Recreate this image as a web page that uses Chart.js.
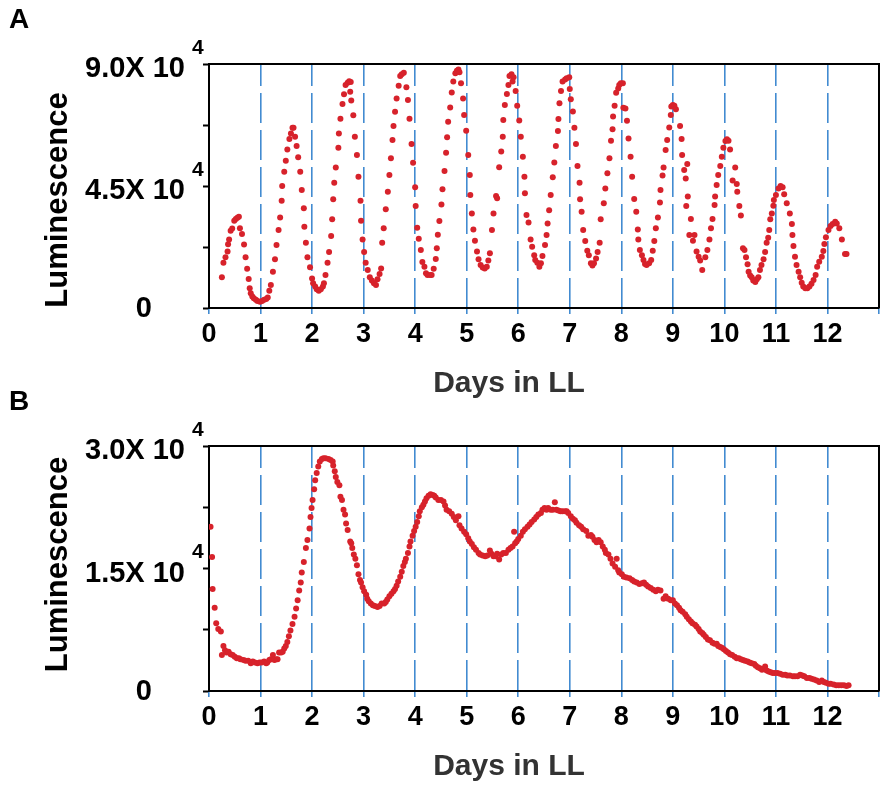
<!DOCTYPE html>
<html>
<head>
<meta charset="utf-8">
<script src="https://cdn.jsdelivr.net/npm/chart.js@4.4.0/dist/chart.umd.min.js"></script>
<style>
  html, body { margin: 0; padding: 0; background: #fff; }
  #wrap { position: relative; width: 883px; height: 785px; }
  canvas { position: absolute; left: 0; }
  #chartA { top: 0; }
  #chartB { top: 385px; }
</style>
</head>
<body>
<div id="wrap">
  <canvas id="chartA" width="883" height="400"></canvas>
  <canvas id="chartB" width="883" height="400"></canvas>
</div>
<script>
// Panel A: days in LL and luminescence (x 10^4)
const daysA = [
  0.25, 0.28, 0.32, 0.36, 0.37, 0.39, 0.42, 0.45, 0.49, 0.52, 0.55, 0.58,
  0.60, 0.64, 0.68, 0.71, 0.74, 0.77, 0.79, 0.81, 0.84, 0.87, 0.91, 0.94, 0.99,
  1.03, 1.07, 1.11, 1.14,
  1.17, 1.20, 1.24, 1.28, 1.31, 1.35, 1.38, 1.41, 1.42, 1.46, 1.49, 1.52, 1.56, 1.59, 1.62,
  1.64, 1.67, 1.70, 1.73, 1.77, 1.80, 1.84, 1.85, 1.88, 1.91, 1.96, 2.00,
  2.02, 2.06, 2.09, 2.13, 2.17, 2.21, 2.23,
  2.26, 2.30, 2.33, 2.37, 2.39, 2.41, 2.43, 2.46, 2.51, 2.52, 2.55, 2.59, 2.62, 2.65, 2.69, 2.72, 2.75,
  2.74, 2.76, 2.80, 2.83, 2.87, 2.90, 2.94, 2.95, 2.98, 3.01, 3.04, 3.08, 3.12, 3.16, 3.20, 3.24,
  3.27, 3.31, 3.34, 3.36, 3.39, 3.43, 3.47, 3.50, 3.53, 3.56, 3.58, 3.61, 3.64, 3.68, 3.71, 3.74, 3.78,
  3.83, 3.86, 3.89, 3.93, 3.96, 4.00, 4.01, 4.04, 4.07, 4.11, 4.14, 4.18, 4.21, 4.24, 4.29, 4.32,
  4.36, 4.40, 4.42, 4.44, 4.47, 4.51, 4.53, 4.57, 4.60, 4.62, 4.64, 4.68, 4.71, 4.74, 4.78, 4.81, 4.84, 4.86,
  4.89, 4.93, 4.95, 4.99, 5.03, 5.06, 5.07, 5.10, 5.13, 5.16, 5.20, 5.23, 5.27, 5.31, 5.35, 5.39,
  5.42, 5.45, 5.49, 5.52, 5.57, 5.59, 5.63, 5.67, 5.70, 5.71, 5.74, 5.78, 5.81,
  5.83, 5.87, 5.91, 5.89, 5.95, 5.98, 6.02, 6.05, 6.09, 6.12, 6.13, 6.16, 6.20, 6.24, 6.27,
  6.31, 6.33, 6.37, 6.41, 6.44, 6.47,
  6.52, 6.55, 6.57, 6.60, 6.63, 6.67, 6.70, 6.73, 6.77, 6.78, 6.80, 6.83, 6.86, 6.91, 6.94, 6.99,
  7.00, 7.02, 7.06, 7.09, 7.12, 7.15, 7.19, 7.20, 7.23, 7.26, 7.30, 7.34, 7.37, 7.41, 7.44, 7.47, 7.51,
  7.54, 7.58, 7.60, 7.66, 7.69, 7.73, 7.77, 7.80, 7.83, 7.84, 7.87, 7.90, 7.94, 7.96, 7.99, 8.03,
  8.04, 8.08, 8.11, 8.14, 8.18, 8.21, 8.25, 8.29, 8.32, 8.33, 8.36, 8.40, 8.43, 8.46, 8.49, 8.54, 8.58,
  8.61, 8.64, 8.67, 8.71, 8.75, 8.76, 8.80, 8.82, 8.86, 8.89, 8.93, 8.96, 8.97, 9.00, 9.03, 9.06,
  9.14, 9.17, 9.18, 9.22, 9.28, 9.25, 9.29, 9.26, 9.35, 9.32, 9.39, 9.42, 9.46, 9.50, 9.53, 9.57,
  9.63, 9.67, 9.71, 9.74, 9.77, 9.81, 9.82, 9.85, 9.88, 9.92, 9.95, 9.98, 10.02, 10.05, 10.08,
  10.11, 10.21, 10.24, 10.16, 10.25, 10.29, 10.32, 10.36, 10.39, 10.42, 10.45, 10.47, 10.50, 10.53, 10.56, 10.60,
  10.63, 10.66, 10.69, 10.72, 10.76, 10.79, 10.82, 10.85, 10.87, 10.89, 10.92, 10.95, 10.96, 11.00, 11.05, 11.09,
  11.13, 11.16, 11.21, 11.27, 11.31, 11.32, 11.34, 11.37, 11.40, 11.44, 11.47, 11.50, 11.53, 11.57, 11.61,
  11.65, 11.69, 11.73, 11.77, 11.80, 11.84, 11.89, 11.92, 11.94, 11.97, 12.02, 12.06, 12.10, 12.15,
  12.18, 12.23, 12.28, 12.34, 12.37
];
const lumA = [
  1.13, 1.67, 1.87, 2.08, 2.35, 2.53, 2.85, 2.93, 3.22, 3.28, 3.33, 3.37,
  2.94, 2.73, 2.34, 1.87, 1.45, 1.07, 0.73, 0.54, 0.42, 0.36, 0.30, 0.26, 0.23,
  0.26, 0.30, 0.33, 0.39,
  0.64, 0.85, 1.34, 1.80, 2.32, 2.88, 3.34, 3.96, 4.50, 5.03, 5.43, 5.85, 6.23, 6.44, 6.65,
  6.65, 6.32, 5.98, 5.56, 5.03, 4.35, 3.68, 3.00, 2.41, 1.87, 1.50, 1.09,
  0.91, 0.79, 0.69, 0.64, 0.69, 0.79, 0.91,
  1.22, 1.67, 2.07, 2.66, 3.27, 4.01, 4.62, 5.18, 5.91, 6.44, 6.98, 7.52, 7.88, 8.23, 8.31, 8.36, 8.34,
  7.98, 7.65, 7.11, 6.32, 5.64, 4.84, 3.96, 3.22, 2.53, 2.07, 1.67, 1.40, 1.13, 1.01, 0.91, 0.85,
  1.06, 1.25, 1.46, 2.41, 2.94, 3.64, 4.29, 4.91, 5.52, 6.20, 6.71, 7.24, 7.73, 8.20, 8.56, 8.62, 8.68,
  8.14, 7.67, 6.98, 6.05, 5.36, 4.45, 3.76, 2.96, 2.55, 2.14, 1.70, 1.52, 1.28, 1.22, 1.22, 1.22,
  1.45, 1.81, 2.20, 2.70, 3.21, 3.82, 4.38, 5.05, 5.73, 6.30, 6.87, 7.40, 7.95, 8.35, 8.66, 8.75, 8.80, 8.70,
  8.29, 7.73, 7.12, 6.54, 5.64, 4.91, 4.17, 3.49, 2.90, 2.48, 2.08, 1.80, 1.59, 1.49, 1.46, 1.52,
  1.75, 2.02, 2.88, 3.49, 4.13, 4.05, 5.19, 5.77, 6.32, 6.93, 7.49, 7.89, 8.23,
  8.56, 8.62, 8.51, 8.35, 8.00, 7.46, 6.92, 6.32, 5.58, 4.84, 4.23, 3.43, 3.15, 2.53, 2.26,
  1.95, 1.77, 1.67, 1.52, 1.65, 1.92,
  2.32, 2.69, 3.12, 3.61, 4.17, 4.82, 5.37, 5.98, 6.53, 6.97, 7.55, 8.00, 8.35, 8.43, 8.47, 8.51,
  8.08, 7.70, 7.25, 6.65, 6.05, 5.24, 4.62, 4.01, 3.55, 2.88, 2.47, 2.11, 1.95, 1.65, 1.57, 1.65, 1.83,
  2.07, 2.41, 3.27, 3.86, 4.41, 4.97, 5.52, 6.17, 6.59, 7.06, 7.46, 7.94, 8.10, 8.23, 8.29, 8.29,
  7.39, 7.36, 6.91, 6.25, 5.58, 4.84, 4.02, 3.55, 2.90, 2.53, 2.14, 1.95, 1.77, 1.62, 1.59, 1.65, 1.77,
  2.11, 2.47, 2.94, 3.34, 3.89, 4.35, 4.89, 5.18, 5.83, 6.20, 6.66, 7.12, 7.43, 7.49, 7.46, 7.33,
  6.71, 6.23, 5.64, 5.09, 5.31, 4.78, 4.11, 3.76, 3.28, 2.69, 2.48, 2.69, 2.08, 1.89, 1.75, 1.40,
  1.87, 2.14, 2.53, 2.94, 3.28, 3.80, 4.11, 4.54, 4.91, 5.24, 5.58, 5.91, 6.16, 6.22, 6.17,
  5.85, 5.18, 4.57, 4.70, 4.29, 3.76, 3.41, 2.20, 2.14, 1.87, 1.61, 1.34, 1.20, 1.13, 1.01, 0.96,
  1.06, 1.13, 1.40, 1.59, 1.80, 2.07, 2.41, 2.59, 2.88, 3.27, 3.49, 3.77, 3.98, 4.17, 4.41, 4.50,
  4.45, 4.20, 3.86, 3.49, 3.10, 2.69, 2.29, 1.89, 1.59, 1.34, 1.13, 0.93, 0.79, 0.73, 0.73,
  0.79, 0.89, 1.03, 1.22, 1.52, 1.71, 1.89, 2.10, 2.36, 2.61, 2.88, 3.02, 3.10, 3.18,
  3.12, 2.94, 2.53, 1.99, 1.99
];

// Panel B: days in LL and luminescence (x 10^4)
const daysB = [
  0.03, 0.06, 0.07, 0.11, 0.14, 0.18, 0.23, 0.25, 0.28, 0.31,
  0.34, 0.38, 0.42, 0.46, 0.50, 0.54, 0.58, 0.61, 0.67, 0.71,
  0.76, 0.81, 0.85, 0.89, 0.94, 0.98, 1.02, 1.07, 1.11, 1.13,
  1.17, 1.20, 1.24, 1.27, 1.30, 1.33, 1.36, 1.40, 1.43, 1.46,
  1.49, 1.52, 1.55, 1.58, 1.62, 1.66, 1.69, 1.72, 1.75, 1.78,
  1.80, 1.84, 1.88, 1.91, 1.95, 1.97, 1.99, 2.01, 2.04, 2.06,
  2.09, 2.12, 2.15, 2.19, 2.22, 2.26, 2.32, 2.36, 2.40, 2.41,
  2.44, 2.46, 2.49, 2.53, 2.55, 2.58, 2.61, 2.64, 2.66, 2.69,
  2.74, 2.76, 2.78, 2.81, 2.84, 2.87, 2.90, 2.93, 2.95, 2.98,
  3.01, 3.05, 3.07, 3.10, 3.14, 3.18, 3.22, 3.27, 3.31, 3.35,
  3.40, 3.43, 3.46, 3.50, 3.54, 3.58, 3.61, 3.64, 3.67, 3.71,
  3.74, 3.77, 3.80, 3.82, 3.86, 3.89, 3.91, 3.95, 3.98, 4.01,
  4.04, 4.07, 4.09, 4.13, 4.16, 4.19, 4.22, 4.26, 4.30, 4.34,
  4.37, 4.40, 4.45, 4.50, 4.55, 4.58, 4.61, 4.66, 4.71, 4.75,
  4.79, 4.84, 4.86, 4.90, 4.95, 4.99, 5.03, 5.06, 5.10, 5.14,
  5.18, 5.23, 5.26, 5.31, 5.36, 5.40, 5.45, 5.48, 5.52, 5.56,
  5.59, 5.63,
  5.67, 5.71, 5.76, 5.81, 5.85, 5.89, 5.92, 5.94, 5.97, 6.00,
  6.05, 6.09, 6.13, 6.18, 6.22, 6.26, 6.31, 6.35, 6.39, 6.44,
  6.47, 6.51, 6.55, 6.58, 6.63, 6.67, 6.71, 6.74, 6.78, 6.82,
  6.86, 6.91, 6.94, 6.97, 7.02, 7.06, 7.10, 7.13, 7.18, 7.22,
  7.26, 7.32, 7.36, 7.41, 7.44, 7.48, 7.52, 7.56, 7.60, 7.64,
  7.68, 7.70, 7.75, 7.79, 7.83, 7.88, 7.91, 7.94, 7.96, 8.01,
  8.05, 8.10, 8.16, 8.21, 8.25, 8.30, 8.35, 8.40, 8.44, 8.48,
  8.52, 8.57, 8.62, 8.67, 8.71, 8.76, 8.82, 8.86, 8.91, 8.96,
  9.00, 9.04, 9.08, 9.12, 9.15, 9.19, 9.24, 9.27, 9.31, 9.35,
  9.38, 9.43, 9.46, 9.50, 9.53, 9.57, 9.60, 9.64, 9.68, 9.72,
  9.77, 9.81, 9.85, 9.88, 9.92, 9.95, 9.99, 10.03, 10.07, 10.11,
  10.15, 10.20, 10.24, 10.28, 10.32, 10.36, 10.40, 10.45, 10.49, 10.53,
  10.58, 10.61, 10.65, 10.69, 10.73, 10.76, 10.79, 10.82, 10.86, 10.90,
  10.94, 10.98, 11.03, 11.08, 11.13, 11.18, 11.22, 11.27, 11.33, 11.37,
  11.42, 11.47, 11.51, 11.55, 11.60, 11.65, 11.69, 11.74, 11.79, 11.84,
  11.89, 11.93, 11.97, 12.02, 12.06, 12.12, 12.17, 12.22, 12.27, 12.32,
  12.37, 12.41
];
const lumB = [
  2.01, 1.64, 1.25, 1.02, 0.83, 0.76, 0.73, 0.44, 0.55, 0.50,
  0.47, 0.48, 0.45, 0.44, 0.42, 0.40, 0.40, 0.39, 0.38, 0.37,
  0.37, 0.34, 0.36, 0.35, 0.34, 0.35, 0.35, 0.36, 0.34, 0.35,
  0.38, 0.39, 0.44, 0.38, 0.39, 0.39, 0.47, 0.47, 0.48, 0.52,
  0.55, 0.60, 0.67, 0.74, 0.82, 0.91, 1.01, 1.11, 1.23, 1.33,
  1.45, 1.58, 1.75, 1.85, 1.99, 2.13, 2.24, 2.34, 2.47, 2.58,
  2.67, 2.75, 2.81, 2.84, 2.85, 2.85, 2.84, 2.83, 2.81, 2.76,
  2.69, 2.62, 2.56, 2.52, 2.38, 2.34, 2.22, 2.16, 2.05, 1.97,
  1.83, 1.81, 1.75, 1.67, 1.62, 1.54, 1.43, 1.36, 1.33, 1.27,
  1.22, 1.18, 1.13, 1.10, 1.07, 1.05, 1.04, 1.03, 1.04, 1.07,
  1.07, 1.09, 1.12, 1.16, 1.19, 1.22, 1.25, 1.29, 1.34, 1.40,
  1.46, 1.53, 1.58, 1.62, 1.69, 1.77, 1.83, 1.90, 1.96, 2.01,
  2.07, 2.14, 2.20, 2.25, 2.28, 2.32, 2.36, 2.39, 2.41, 2.40,
  2.39, 2.37, 2.34, 2.34, 2.32, 2.27, 2.22, 2.20, 2.17, 2.13,
  2.09, 2.14, 2.03, 1.99, 1.95, 1.92, 1.87, 1.83, 1.80, 1.76,
  1.73, 1.69, 1.67, 1.66, 1.65, 1.66, 1.72, 1.68, 1.65, 1.65,
  1.68, 1.61,
  1.67, 1.69, 1.69, 1.73, 1.75, 1.77, 1.95, 1.81, 1.83, 1.86,
  1.90, 1.95, 1.98, 2.01, 2.04, 2.07, 2.10, 2.13, 2.16, 2.18,
  2.22, 2.24, 2.22, 2.24, 2.22, 2.22, 2.31, 2.22, 2.21, 2.20,
  2.20, 2.20, 2.20, 2.18, 2.14, 2.11, 2.09, 2.06, 2.03, 2.01,
  1.98, 1.96, 1.90, 1.91, 1.89, 1.85, 1.82, 1.85, 1.82, 1.77,
  1.73, 1.69, 1.67, 1.62, 1.56, 1.52, 1.62, 1.48, 1.45, 1.43,
  1.40, 1.39, 1.38, 1.36, 1.34, 1.33, 1.31, 1.32, 1.33, 1.30,
  1.28, 1.26, 1.24, 1.22, 1.24, 1.23, 1.13, 1.16, 1.13, 1.11,
  1.11, 1.07, 1.05, 1.02, 0.99, 0.97, 0.94, 0.91, 0.88, 0.85,
  0.83, 0.81, 0.79, 0.76, 0.73, 0.71, 0.69, 0.66, 0.63, 0.62,
  0.59, 0.58, 0.58, 0.55, 0.54, 0.53, 0.51, 0.49, 0.47, 0.45,
  0.44, 0.42, 0.40, 0.40, 0.39, 0.38, 0.37, 0.36, 0.35, 0.34,
  0.33, 0.31, 0.29, 0.28, 0.26, 0.27, 0.30, 0.25, 0.24, 0.23,
  0.22, 0.22, 0.22, 0.21, 0.20, 0.20, 0.19, 0.19, 0.18, 0.18,
  0.18, 0.20, 0.19, 0.18, 0.16, 0.16, 0.15, 0.14, 0.13, 0.11,
  0.13, 0.11, 0.10, 0.09, 0.09, 0.08, 0.07, 0.07, 0.07, 0.07,
  0.06, 0.07
];

// axis ticks
const dayTicks = [0, 1, 2, 3, 4, 5, 6, 7, 8, 9, 10, 11, 12];
const yLabelsA = [0, 4.5, 9.0];
const yLabelsB = [0, 1.5, 3.0];
const exponent = 4;

const FONT = '"Liberation Sans", Arial, Helvetica, sans-serif';
const RED = '#d7222b';
const BLUE = '#428bd1';

// frame, y labels with the power of ten, axis titles and panel letter
function panelText(letter, yLabels, titleShift) {
  return {
    id: 'panelText',
    afterDraw(chart) {
      const { ctx, chartArea: a } = chart;
      const y = chart.scales.y;
      ctx.save();
      ctx.strokeStyle = '#000';
      ctx.lineWidth = 2;
      ctx.beginPath();
      ctx.moveTo(a.left, a.top);
      ctx.lineTo(a.right, a.top);
      ctx.lineTo(a.right, a.bottom);
      ctx.stroke();

      ctx.fillStyle = '#000';
      ctx.textAlign = 'left';
      ctx.textBaseline = 'alphabetic';
      ctx.font = 'bold 28px ' + FONT;
      ctx.fillText(letter, 9, a.top - 36);

      ctx.textBaseline = 'middle';
      yLabels.forEach((v) => {
        const py = y.getPixelForValue(v);
        ctx.textAlign = 'right';
        ctx.font = 'bold 29px ' + FONT;
        if (v === 0) {
          ctx.fillText('0', a.left - 57, py + 1);
          return;
        }
        ctx.fillText(v.toFixed(1) + 'X 10', a.left - 24, py + 5);
        ctx.textAlign = 'left';
        ctx.font = 'bold 21px ' + FONT;
        ctx.fillText(String(exponent), a.left - 17, py - 16);
      });

      ctx.save();
      ctx.translate(58, (a.top + a.bottom) / 2 + titleShift);
      ctx.rotate(-Math.PI / 2);
      ctx.textAlign = 'center';
      ctx.font = 'bold 31px ' + FONT;
      ctx.fillText('Luminescence', 0, 0);
      ctx.restore();

      ctx.fillStyle = '#333';
      ctx.textAlign = 'center';
      ctx.textBaseline = 'alphabetic';
      ctx.font = 'bold 30px ' + FONT;
      ctx.fillText('Days in LL', 509, a.bottom + 84);
      ctx.restore();
    }
  };
}

function makePanel(id, days, lum, yMax, yLabels, letter, top, bottom, titleShift) {
  const canvas = document.getElementById(id);
  const points = days.map((d, i) => ({ x: d, y: lum[i] }));
  return new Chart(canvas, {
    type: 'scatter',
    data: {
      datasets: [{
        data: points,
        pointRadius: 3,
        pointHoverRadius: 3,
        pointBackgroundColor: RED,
        pointBorderWidth: 0,
        borderColor: RED
      }]
    },
    options: {
      responsive: false,
      animation: false,
      devicePixelRatio: 1,
      events: [],
      layout: { padding: { top: top, right: 4, bottom: 0, left: 0 } },
      plugins: { legend: { display: false }, tooltip: { enabled: false } },
      scales: {
        x: {
          type: 'linear',
          min: 0,
          max: 13,
          afterFit: (s) => { s.height = canvas.height - bottom; },
          afterBuildTicks: (s) => {
            s.ticks = [...dayTicks, 13].map((v) => ({ value: v }));
          },
          ticks: {
            autoSkip: false,
            maxRotation: 0,
            padding: 4,
            color: '#000',
            font: { family: FONT, size: 27, weight: 'bold' },
            callback: (v) => (dayTicks.includes(v) ? String(v) : '')
          },
          grid: {
            color: (c) => (c.tick && c.tick.value > 0 && c.tick.value < 13 ? BLUE : 'rgba(0,0,0,0)'),
            lineWidth: 1.6,
            tickColor: BLUE,
            tickLength: 6,
            tickWidth: 1.6
          },
          border: { display: true, color: '#000', width: 2, dash: [30, 7], dashOffset: 8 }
        },
        y: {
          min: 0,
          max: yMax,
          afterFit: (s) => { s.width = 209; },
          afterBuildTicks: (s) => {
            s.ticks = [0, 0.25, 0.5, 0.75, 1].map((f) => ({ value: f * yMax }));
          },
          ticks: { display: false },
          grid: {
            drawOnChartArea: false,
            drawTicks: true,
            tickLength: 6,
            tickWidth: 2,
            tickColor: '#000'
          },
          border: { display: true, color: '#000', width: 2 }
        }
      }
    },
    plugins: [panelText(letter, yLabels, titleShift)]
  });
}

makePanel('chartA', daysA, lumA, 9.0, yLabelsA, 'A', 64, 308, 14);
makePanel('chartB', daysB, lumB, 3.0, yLabelsB, 'B', 61, 306, -4);
</script>
</body>
</html>
